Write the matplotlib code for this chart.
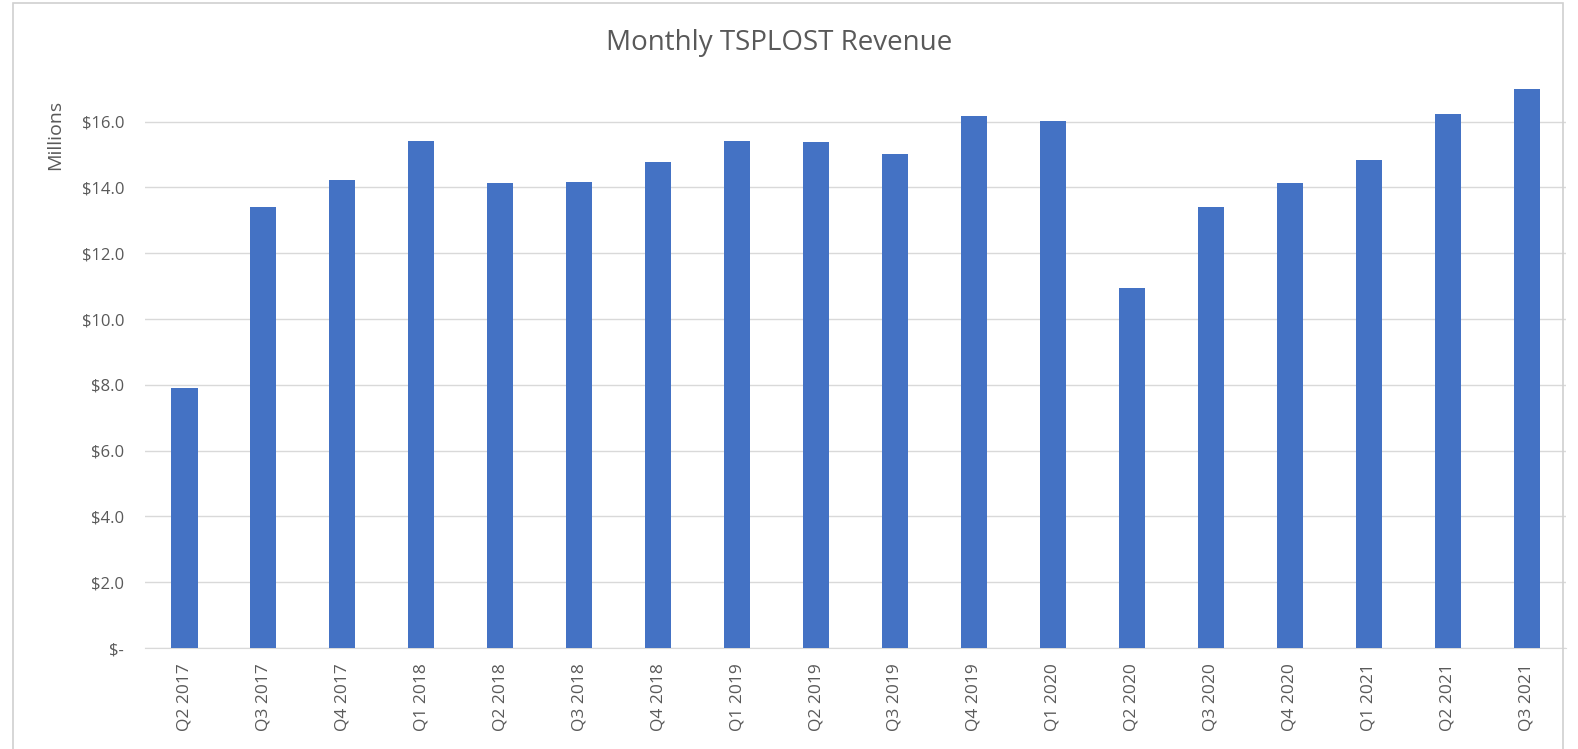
import matplotlib.pyplot as plt
from matplotlib.patches import Rectangle

quarters = ["Q2 2017", "Q3 2017", "Q4 2017", "Q1 2018", "Q2 2018", "Q3 2018",
            "Q4 2018", "Q1 2019", "Q2 2019", "Q3 2019", "Q4 2019", "Q1 2020",
            "Q2 2020", "Q3 2020", "Q4 2020", "Q1 2021", "Q2 2021", "Q3 2021"]
revenue = [7.91, 13.40, 14.22, 15.42, 14.12, 14.17, 14.78, 15.42, 15.37, 15.00,
           16.18, 16.02, 10.95, 13.40, 14.12, 14.82, 16.24, 17.00]
yticks = [0, 2, 4, 6, 8, 10, 12, 14, 16]
ytick_labels = ["$-", "$2.0", "$4.0", "$6.0", "$8.0", "$10.0", "$12.0", "$14.0", "$16.0"]

plt.rcParams['font.family'] = ['Open Sans', 'DejaVu Sans']
txt = "#595959"
grid = "#d9d9d9"

fig = plt.figure(figsize=(15.78, 7.49), dpi=100)
fig.patches.append(Rectangle((13 / 1578, -0.01), (1563 - 13) / 1578, 1 - 3 / 749 + 0.01,
                             transform=fig.transFigure, fill=False,
                             edgecolor="#d0d0d0", linewidth=1.2))

ax = fig.add_axes([0.0919, 0.1348, 0.9005, 0.7512])
x = range(len(quarters))
ax.bar(x, revenue, width=0.33, color="#4472C4", zorder=3)
ax.set_xlim(-0.5, len(quarters) - 0.5)
ax.set_ylim(0, 17.1)
ax.set_yticks(yticks)
ax.set_yticklabels(ytick_labels)
ax.set_xticks(list(x))
ax.set_xticklabels(quarters, rotation=90)
ax.tick_params(axis="y", length=0, pad=15, labelsize=12, labelcolor=txt)
ax.tick_params(axis="x", length=0, pad=11, labelsize=12.5, labelcolor=txt)
ax.yaxis.grid(True, color=grid, linewidth=1, zorder=0)
for s in ["top", "right", "left"]:
    ax.spines[s].set_visible(False)
ax.spines["bottom"].set_color(grid)

fig.text(0.494, 0.943, "Monthly TSPLOST Revenue", ha="center", va="center",
         fontsize=20, color=txt)
fig.text(0.035, 0.82, "Millions", ha="center", va="center", rotation=90,
         fontsize=14, color=txt)

fig.savefig("out.png", dpi=100)
